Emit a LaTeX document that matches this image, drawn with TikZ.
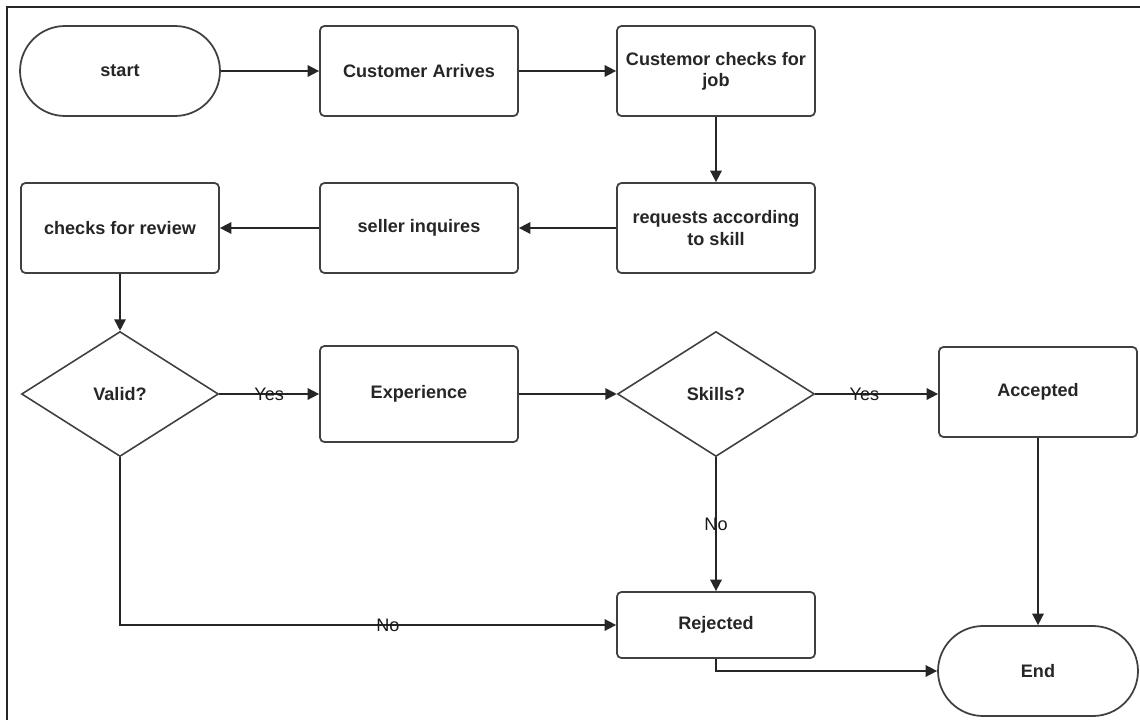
\documentclass[tikz,border=0pt]{standalone}
\usepackage{fontspec}
\setmainfont{Liberation Sans}
\usetikzlibrary{shapes.geometric,arrows.meta}
\begin{document}
\begin{tikzpicture}[x=0.02cm,y=-0.02cm,
  every node/.style={font=\fontsize{10.3}{12}\selectfont\bfseries, text=black!85},
  box/.style={draw=black!75, line width=1pt, rounded corners=2.5pt, minimum width=3.96cm, minimum height=1.8cm, align=center, inner sep=2pt, fill=white},
  term/.style={draw=black!75, line width=1pt, rounded corners=0.9cm, minimum width=4cm, minimum height=1.8cm, fill=white},
  dec/.style={draw=black!75, line width=0.9pt, diamond, minimum width=3.94cm, minimum height=2.5cm, inner sep=0pt, fill=white},
  conn/.style={draw=black!85, line width=0.9pt, -{Triangle[length=6.5pt,width=6.5pt]}},
  lbl/.style={font=\fontsize{10.3}{12}\selectfont, text=black!90, inner sep=1pt}
]
\useasboundingbox (0,0) rectangle (1140,720);
\draw[line width=1.2pt, black!85] (7,720) -- (7,7) -- (1140,7);

\node[term] (start) at (120,71) {start};
\node[box] (cust) at (419,71) {Customer Arrives};
\node[box] (chk) at (716,71) {Custemor checks for\\job};
\node[box] (req) at (716,228) {requests according\\to skill};
\node[box] (sell) at (419,228) {seller inquires};
\node[box] (rev) at (120,228) {checks for review};
\node[dec] (valid) at (120,394) {Valid?};
\node[box, minimum height=1.92cm] (exp) at (419,394) {Experience};
\node[dec] (skills) at (716,394) {Skills?};
\node[box] (acc) at (1038,392) {Accepted};
\node[box, minimum height=1.32cm] (rej) at (716,625) {Rejected};
\node[term] (end) at (1038,671) {End};

\draw[conn] (start) -- (cust);
\draw[conn] (cust) -- (chk);
\draw[conn] (chk) -- (req);
\draw[conn] (req) -- (sell);
\draw[conn] (sell) -- (rev);
\draw[conn] (rev) -- (valid);
\draw[conn] (valid) -- node[lbl]{Yes} (exp);
\draw[conn] (exp) -- (skills);
\draw[conn] (skills.east) -- node[lbl, pos=0.4]{Yes} (skills.east -| acc.west);
\draw[conn] (skills) -- node[lbl]{No} (rej);
\draw[conn] (valid.south) |- node[lbl, pos=0.77]{No} (rej.west);
\draw[conn] (acc) -- (end);
\draw[conn] (rej.south) |- (end.west);
\end{tikzpicture}
\end{document}
